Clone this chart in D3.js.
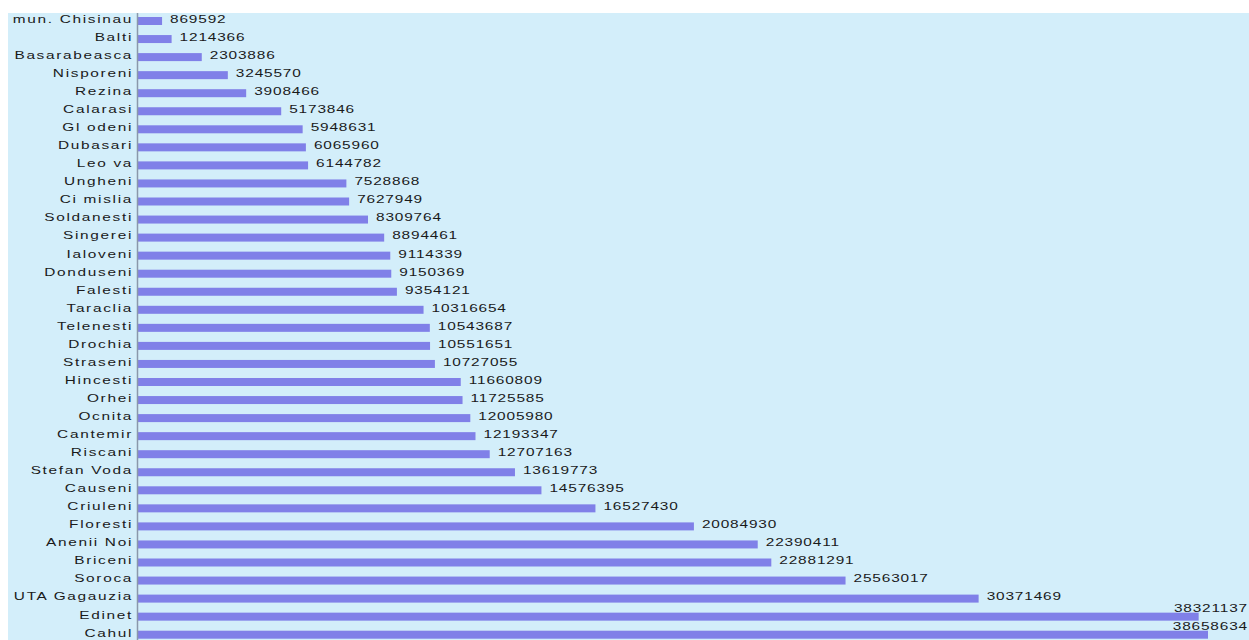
<!DOCTYPE html>
<html>
<head>
<meta charset="utf-8">
<script src="https://cdn.jsdelivr.net/npm/d3@7"></script>
<style>
  body { margin: 0; background: #fff; }
  text { font-family: "Liberation Sans", Arial, sans-serif; font-size: 11px; fill: #1a1a1a; }
</style>
</head>
<body>
<div id="chart"></div>
<script>
// districts, top to bottom
var categories = ["mun. Chisinau", "Balti", "Basarabeasca", "Nisporeni", "Rezina", "Calarasi",
  "Gl odeni", "Dubasari", "Leo va", "Ungheni", "Ci mislia", "Soldanesti", "Singerei", "Ialoveni",
  "Donduseni", "Falesti", "Taraclia", "Telenesti", "Drochia", "Straseni", "Hincesti", "Orhei",
  "Ocnita", "Cantemir", "Riscani", "Stefan  Voda", "Causeni", "Criuleni", "Floresti",
  "Anenii Noi", "Briceni", "Soroca", "UTA Gagauzia", "Edinet", "Cahul"];

var values = [869592, 1214366, 2303886, 3245570, 3908466, 5173846, 5948631, 6065960, 6144782,
  7528868, 7627949, 8309764, 8894461, 9114339, 9150369, 9354121, 10316654, 10543687, 10551651,
  10727055, 11660809, 11725585, 12005980, 12193347, 12707163, 13619773, 14576395, 16527430,
  20084930, 22390411, 22881291, 25563017, 30371469, 38321137, 38658634];

var w = 1249;
var h = 640;
var stretch = 1.4;   // the source font is drawn wide

var svg = d3.select("#chart")
            .append("svg")
            .attr("width", w)
            .attr("height", h);

// light blue plot background
svg.append("rect")
   .attr("x", 8)
   .attr("y", 13)
   .attr("width", w - 8)
   .attr("height", h - 13)
   .attr("fill", "#d3eefa");

var x = d3.scaleLinear()
          .domain([0, d3.max(values)])
          .range([138, 1208]);

var y = d3.scalePoint()
          .domain(categories)
          .range([20, 20 + 34 * 18.05]);

var barH = 8;

svg.selectAll("rect.bar")
   .data(categories)
   .enter()
   .append("rect")
   .attr("class", "bar")
   .attr("x", x(0))
   .attr("y", function(d) { return y(d) + 1 - barH / 2; })
   .attr("width", function(d, i) { return x(values[i]) - x(0); })
   .attr("height", barH)
   .attr("fill", "#8080e8");

// axis line
svg.append("line")
   .attr("x1", x(0) - 0.5)
   .attr("x2", x(0) - 0.5)
   .attr("y1", 13)
   .attr("y2", h)
   .attr("stroke", "#8a98aa")
   .attr("stroke-width", 1.5);

// category labels
svg.selectAll("text.cat")
   .data(categories)
   .enter()
   .append("text")
   .attr("class", "cat")
   .attr("text-anchor", "end")
   .attr("dy", "0.35em")
   .attr("letter-spacing", 1.2)
   .attr("transform", function(d) { return "translate(133," + (y(d) - 1) + ") scale(" + stretch + ",1)"; })
   .text(function(d) { return d; });

// value labels; the ones that would run off the right edge are pulled back and lifted above the bar
svg.selectAll("text.val")
   .data(categories)
   .enter()
   .append("text")
   .attr("class", "val")
   .attr("dy", "0.35em")
   .attr("letter-spacing", 0.6)
   .text(function(d, i) { return values[i]; })
   .attr("transform", function(d, i) {
      var tw = this.getComputedTextLength() * stretch;
      var px = x(values[i]) + 8;
      var py = y(d) - 1;
      if (px + tw > w - 1) {
         px = w - tw - 1;
         py = y(d) - 8;
      }
      return "translate(" + px + "," + py + ") scale(" + stretch + ",1)";
   });
</script>
</body>
</html>
